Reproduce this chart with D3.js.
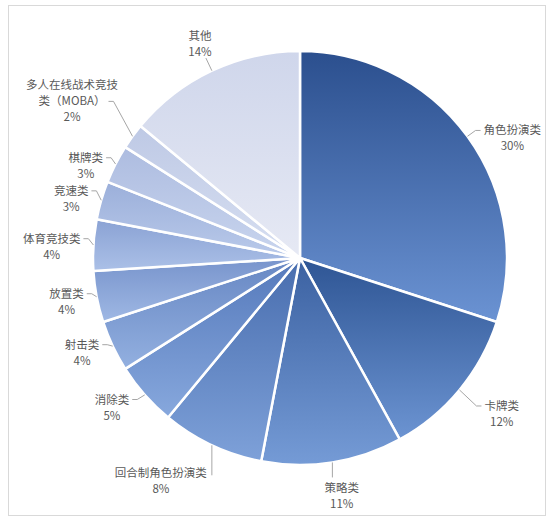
<!DOCTYPE html>
<html>
<head>
<meta charset="utf-8">
<script src="https://cdn.jsdelivr.net/npm/d3@7"></script>
<style>
  body { margin: 0; background: #fff; }
  svg { display: block; }
  text { font-family: "Noto Sans CJK SC", "Noto Sans", sans-serif; font-size: 11.5px; fill: #595959; }
</style>
</head>
<body>
<svg id="chart" width="550" height="519"></svg>
<script>
// 游戏类型占比
const categories = ['角色扮演类', '卡牌类', '策略类', '回合制角色扮演类', '消除类', '射击类',
  '放置类', '体育竞技类', '竞速类', '棋牌类', '多人在线战术竞技\n类（MOBA）', '其他']
const shares = [30, 12, 11, 8, 5, 4, 4, 4, 3, 3, 2, 14]

// label layout: leader length per slice, and a nudge for the crowded MOBA label
const leaderLen = [10, 22, 15, 30, 10, 6, 5, 5, 5, 5, 5, 14]
const labelNudge = [[0, 0], [0, 2], [0, 0], [0, 0], [0, 2], [0, 0],
  [0, 0], [0, -2], [0, -4], [0, 0], [-15, -28], [0, 0]]

const svg = d3.select('#chart')
const cx = 300
const cy = 258
const radius = 207

// frame
svg.append('rect')
  .attr('x', 8.5).attr('y', 5.5)
  .attr('width', 537).attr('height', 510)
  .attr('fill', '#fff')
  .attr('stroke', '#d9d9d9')

const data = categories.map((c, i) => ({ name: c, value: shares[i] }))

const pie = d3.pie().sort(null).value(d => d.value)
const arcs = pie(data)
const arc = d3.arc().innerRadius(0).outerRadius(radius)

// colours go from dark blue to pale blue around the pie
const topCol = d3.scaleLinear()
  .domain([0, 1, 4, 7, 11])
  .range(['#2b4f8e', '#2e5594', '#5579bb', '#8aa2d4', '#cfd6eb'])
const botCol = d3.scaleLinear()
  .domain([0, 1, 4, 7, 11])
  .range(['#6b93d3', '#6c94d2', '#87a8dd', '#abc0e7', '#e6e9f4'])

const defs = svg.append('defs')
arcs.forEach((a, i) => {
  const g = defs.append('linearGradient')
    .attr('id', 'grad' + i)
    .attr('x1', 0).attr('y1', 0).attr('x2', 0).attr('y2', 1)
  g.append('stop').attr('offset', '0%').attr('stop-color', topCol(i))
  g.append('stop').attr('offset', '100%').attr('stop-color', botCol(i))
})

const chart = svg.append('g').attr('transform', `translate(${cx},${cy})`)

chart.selectAll('path.slice')
  .data(arcs)
  .enter()
  .append('path')
  .attr('class', 'slice')
  .attr('d', arc)
  .attr('fill', (d, i) => `url(#grad${i})`)
  .attr('stroke', '#fff')
  .attr('stroke-width', 2.5)
  .attr('stroke-linejoin', 'round')

// labels with leader lines
const lineH = 16
const pt = (ang, r) => [Math.sin(ang) * r, -Math.cos(ang) * r]

arcs.forEach((a, i) => {
  const mid = (a.startAngle + a.endAngle) / 2
  const s = Math.sin(mid)
  const c = -Math.cos(mid)
  const L = leaderLen[i]
  const p0 = pt(mid, radius)
  const lines = a.data.name.split('\n').concat([a.data.value + '%'])
  const nName = lines.length - 1

  const lg = chart.append('g')
  const t = lg.append('text').attr('text-anchor', 'middle')
  lines.forEach((l, k) => {
    t.append('tspan').attr('x', 0).attr('y', k * lineH).attr('dy', '0.35em').text(l)
  })
  const widths = t.selectAll('tspan').nodes().map(n => n.getComputedTextLength())
  const w = d3.max(widths)
  const wLast = widths[nName - 1]

  let bx, by, pts
  if (Math.abs(s) < 0.45 && c > 0) {
    // under the pie: vertical leader
    const e = [p0[0], p0[1] + L]
    pts = [p0, e]
    if (Math.abs(s) < 0.25) {
      bx = p0[0] + s * 60
      by = e[1] + 11
    } else {
      bx = s < 0 ? e[0] - 5 - w / 2 : e[0] + 5 + w / 2
      by = e[1] - 2 - (nName - 1) * lineH
    }
  } else if (Math.abs(s) < 0.45) {
    // above the pie
    const p1 = pt(mid, radius + L)
    pts = [p0, p1]
    bx = p1[0] + s * 14
    by = p1[1] - 6 - (lines.length - 1) * lineH
  } else {
    // at the side: leader with a short horizontal tick
    const p1 = pt(mid, radius + L)
    const dir = s > 0 ? 1 : -1
    const elbow = [p1[0] + labelNudge[i][0], p1[1] + (s < 0 ? -4 : 0) + labelNudge[i][1]]
    const tick = [elbow[0] + dir * 5, elbow[1]]
    pts = [p0, elbow, tick]
    bx = tick[0] + dir * (3 + wLast / 2)
    by = elbow[1] - (nName - 1) * lineH
  }

  lg.insert('path', 'text')
    .attr('d', d3.line()(pts))
    .attr('fill', 'none')
    .attr('stroke', '#a6a6a6')
    .attr('stroke-width', 1)
  t.attr('transform', `translate(${bx},${by})`)
})
</script>
</body>
</html>
